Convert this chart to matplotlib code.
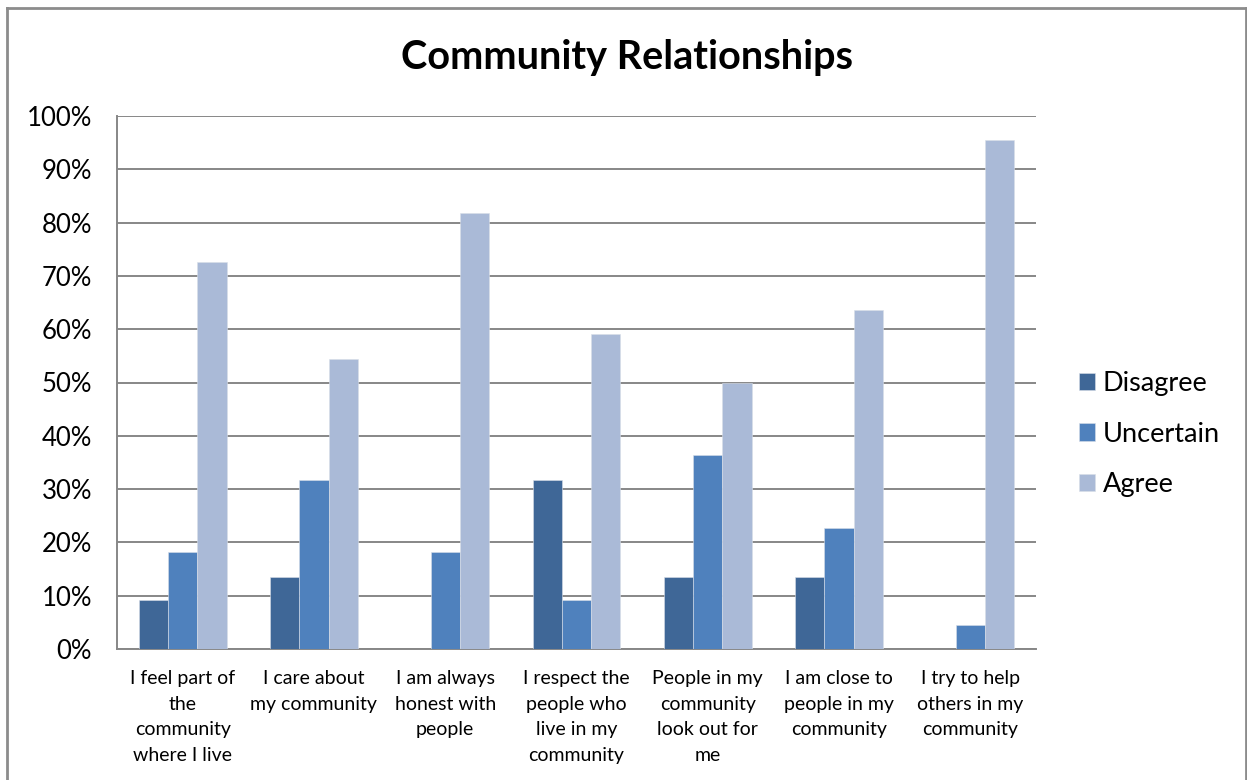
import numpy as np
import matplotlib.pyplot as plt
from matplotlib.lines import Line2D

plt.rcParams['font.family'] = ['Lato', 'DejaVu Sans']

categories = ["I feel part of\nthe\ncommunity\nwhere I live",
              "I care about\nmy community",
              "I am always\nhonest with\npeople",
              "I respect the\npeople who\nlive in my\ncommunity",
              "People in my\ncommunity\nlook out for\nme",
              "I am close to\npeople in my\ncommunity",
              "I try to help\nothers in my\ncommunity"]
disagree = [9.1, 13.6, 0, 31.8, 13.6, 13.6, 0]
uncertain = [18.2, 31.8, 18.2, 9.1, 36.4, 22.7, 4.5]
agree = [72.7, 54.5, 81.8, 59.1, 50.0, 63.6, 95.5]

series = [("Disagree", disagree, "#3F6797"),
          ("Uncertain", uncertain, "#4F81BD"),
          ("Agree", agree, "#AABAD7")]

fig = plt.figure(figsize=(12.47, 7.8), dpi=100)
ax = fig.add_axes([117/1247, 1 - 649/780, (1036-117)/1247, (649-116)/780])

x = np.arange(len(categories))
w = 0.223
for i, (name, vals, col) in enumerate(series):
    ax.bar(x + (i - 1) * w, vals, w, color=col, label=name,
           edgecolor="#D8DEE8", linewidth=0.4, zorder=3)

ax.set_xlim(-0.5, len(categories) - 0.5)
ax.set_ylim(0, 100)
ax.set_yticks(np.arange(0, 101, 10))
ax.set_yticklabels([f"{v}%" for v in range(0, 101, 10)], fontsize=18.5)
ax.set_xticks(x)
ax.set_xticklabels(categories, fontsize=14, linespacing=1.62, va="top")
ax.tick_params(axis="both", length=0)
ax.tick_params(axis="y", pad=18)
ax.tick_params(axis="x", pad=15)
ax.yaxis.grid(True, color="#878787", linewidth=1.4, zorder=0)
ax.set_axisbelow(True)
for side in ["top", "right"]:
    ax.spines[side].set_visible(False)
for side in ["left", "bottom"]:
    ax.spines[side].set_color("#878787")
    ax.spines[side].set_linewidth(1.4)

fig.text(627/1247, 1 - 57/780, "Community Relationships", fontsize=28.5,
         fontweight="bold", ha="center", va="center")

leg = fig.legend(loc="center left", bbox_to_anchor=(1065/1247, 1 - 434/780),
                 frameon=False, fontsize=19.5, handlelength=0.6, handleheight=0.6,
                 handletextpad=0.3, labelspacing=0.95, borderpad=0)

# outer chart border
col = "#8C8C8C"
fig.add_artist(Line2D([7/1247, 7/1247], [0, 1 - 8/780], color=col, lw=2, transform=fig.transFigure))
fig.add_artist(Line2D([7/1247, 1246/1247], [1 - 8/780, 1 - 8/780], color=col, lw=2, transform=fig.transFigure))
fig.add_artist(Line2D([1246/1247, 1246/1247], [0, 1 - 8/780], color=col, lw=2, transform=fig.transFigure))

fig.savefig("out.png", dpi=100)
